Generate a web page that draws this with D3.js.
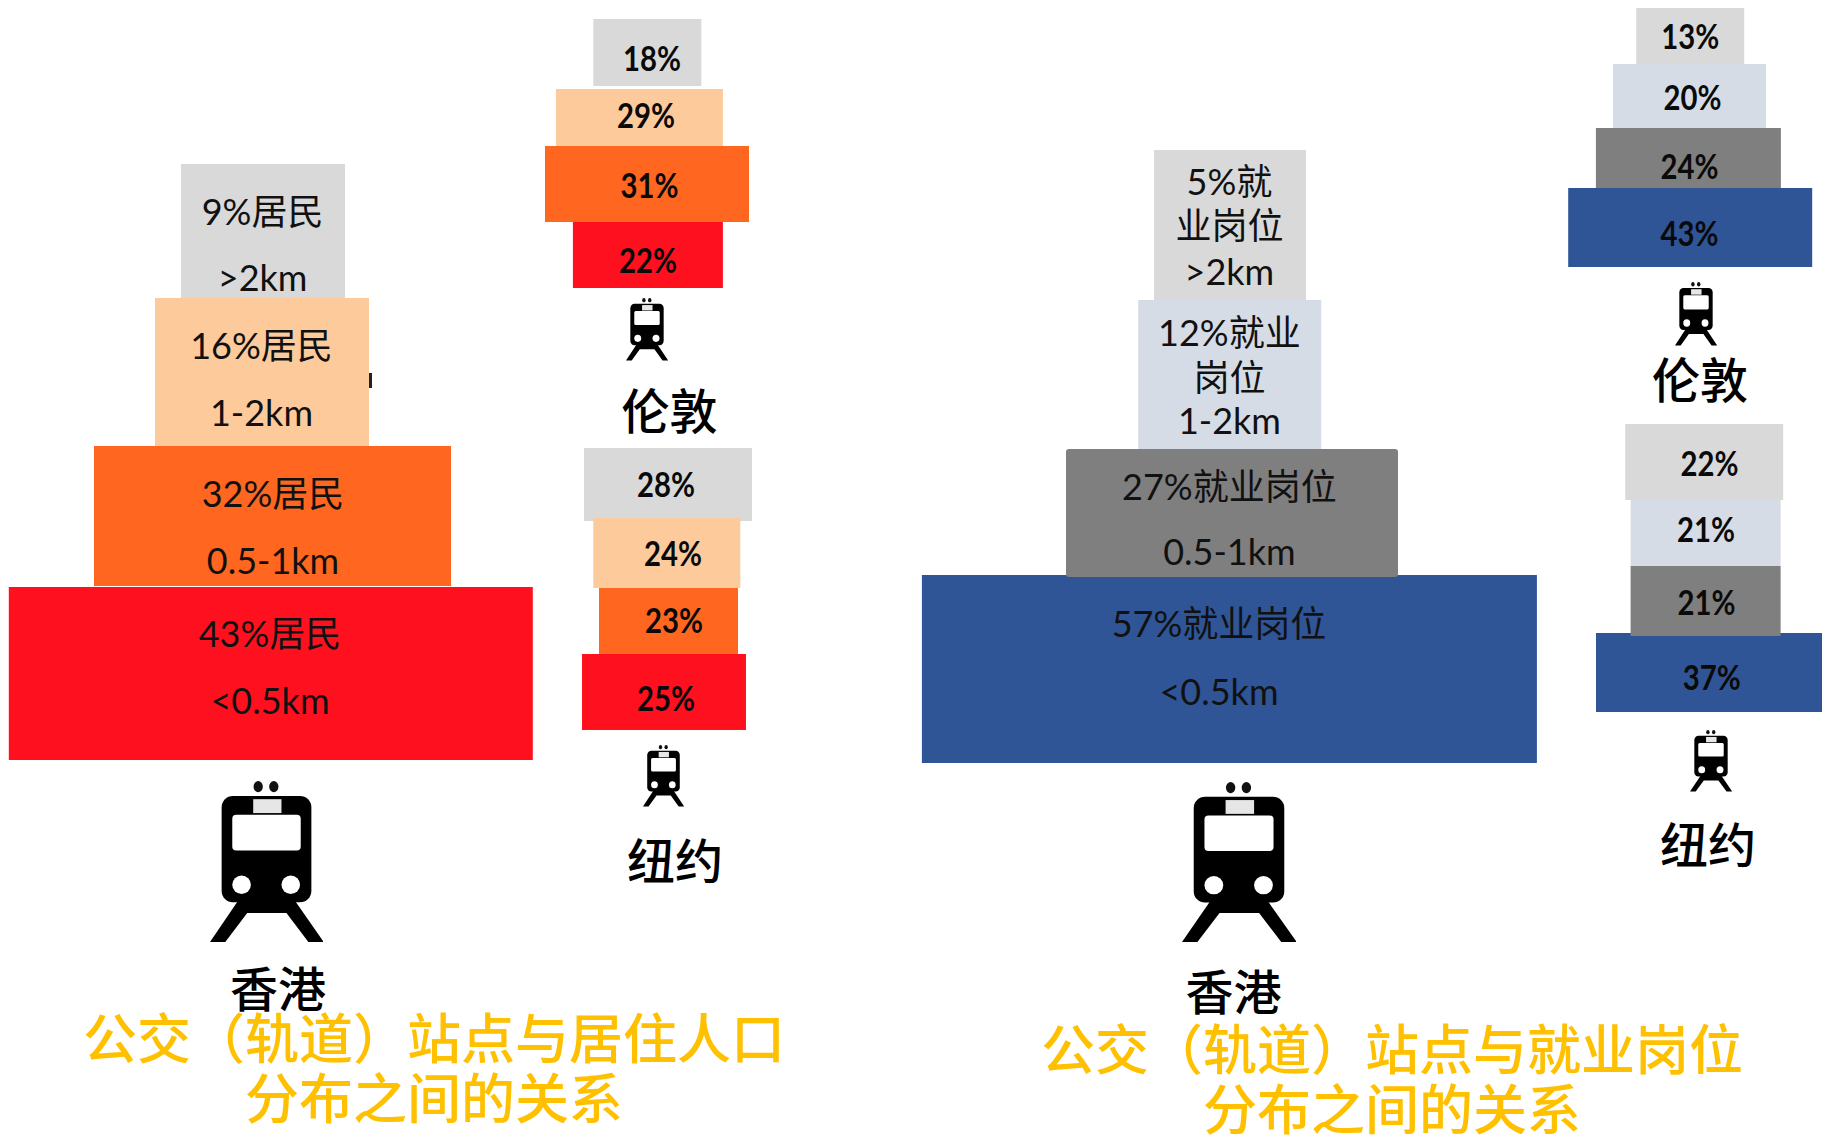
<!DOCTYPE html>
<html>
<head>
<meta charset="utf-8">
<script src="https://cdn.jsdelivr.net/npm/d3@7/dist/d3.min.js"></script>
<style>
  html, body { margin: 0; padding: 0; background: #fff; }
  svg { display: block; }
  text { text-anchor: middle; }
  .big { font-family: Lato, "Noto Sans CJK SC", sans-serif; font-size: 36px; fill: #111; }
  .small { font-family: Lato, sans-serif; font-weight: bold; font-size: 34px; fill: #0a0a0a; }
  .city { font-family: "Noto Sans CJK SC", sans-serif; font-size: 48px; font-weight: 500; fill: #000; }
  .title { font-family: "Noto Sans CJK SC", sans-serif; font-size: 54px; font-weight: 500; fill: #ffc000; }
</style>
</head>
<body>
<div id="chart"></div>
<script>
// ======================
// 1. DATA (top tier first)
// ======================
const tiers = [">2km", "1-2km", "0.5-1km", "<0.5km"];

const hkResidents = [9, 16, 32, 43];
const londonResidents = [18, 29, 31, 22];
const nyResidents = [28, 24, 23, 25];

const hkJobs = [5, 12, 27, 57];
const londonJobs = [13, 20, 24, 43];
const nyJobs = [22, 21, 21, 37];

const hkResidentLabels = [["9%居民", ">2km"], ["16%居民", "1-2km"], ["32%居民", "0.5-1km"], ["43%居民", "<0.5km"]];
const hkJobLabels = [["5%就", "业岗位", ">2km"], ["12%就业", "岗位", "1-2km"], ["27%就业岗位", "0.5-1km"], ["57%就业岗位", "<0.5km"]];

const titleResidents = ["公交（轨道）站点与居住人口", "分布之间的关系"];
const titleJobs = ["公交（轨道）站点与就业岗位", "分布之间的关系"];

// ======================
// 2. LAYOUT AND COLOURS
// ======================
const warmColors = ["#d9d9d9", "#fdcb9b", "#ff6720", "#ff101f"];
const coolColors = ["#d9d9d9", "#d6dce5", "#7f7f7f", "#2f5597"];

// the bars are not a true linear encoding, each pyramid has its own width scale
const pyramids = [
  { city: "香港", values: hkResidents, colors: warmColors,
    widths: [164, 214, 357, 524], centers: [263, 262, 272.5, 270.8],
    tops: [164, 298, 446, 587], bottoms: [298, 446, 586, 760],
    lines: hkResidentLabels, labelX: [262.6, 261.5, 273, 270],
    labelY: [[225, 291], [359, 426], [507, 574], [647, 714]],
    icon: [210, 781, 113, 162], cityPos: [278, 1007] },
  { city: "伦敦", values: londonResidents, colors: warmColors,
    widths: [108, 167, 204, 150], centers: [647.3, 639.4, 647, 647.9],
    tops: [19, 89, 146, 222], bottoms: [86, 146, 222, 288],
    labelX: [652, 646, 649.6, 647.9], labelY: [71, 127.5, 197.5, 272.5],
    icon: [626, 298, 42, 63], cityPos: [669.4, 429] },
  { city: "纽约", values: nyResidents, colors: warmColors,
    widths: [168, 147, 139, 164], centers: [668, 666.8, 668.5, 664],
    tops: [448, 518, 588, 654], bottoms: [521, 588, 654, 730],
    labelX: [666, 673, 674, 666], labelY: [497, 565.6, 632.6, 711],
    icon: [643, 745, 41, 62], cityPos: [675, 879] },
  { city: "香港", values: hkJobs, colors: coolColors,
    widths: [152, 183, 332, 615], centers: [1230, 1229.7, 1232, 1229.4],
    tops: [150, 300, 449, 575], bottoms: [300, 449, 577, 763], rx: 3,
    lines: hkJobLabels, labelX: [1229.4, 1229.4, 1229.4, 1219],
    labelY: [[195, 239, 285], [346, 391, 434], [500, 565], [637, 705]],
    icon: [1182, 782, 114, 161], cityPos: [1233.5, 1010] },
  { city: "伦敦", values: londonJobs, colors: coolColors,
    widths: [108, 153, 185, 244], centers: [1690.2, 1689.6, 1688.4, 1690.2],
    tops: [8, 64, 128, 188], bottoms: [64, 128, 188, 267],
    labelX: [1690.2, 1692.5, 1689.6, 1689.6], labelY: [48.6, 110, 179, 245.7],
    icon: [1675, 282, 42, 64], cityPos: [1700, 398] },
  { city: "纽约", values: nyJobs, colors: coolColors,
    widths: [158, 150, 150, 226], centers: [1704.2, 1705.6, 1705.6, 1709],
    tops: [424, 500, 566, 633], bottoms: [500, 566, 636, 712],
    labelX: [1709.4, 1706, 1706.5, 1711.7], labelY: [475.7, 541.5, 615, 690],
    icon: [1690, 730, 42, 62], cityPos: [1708, 863] }
];

const titles = [
  { lines: titleResidents, x: 434, y: [1059, 1119] },
  { lines: titleJobs, x: 1392, y: [1070, 1130] }
];

// overlaps in the picture: the second tier from the bottom sits on the base bar
const drawOrder = [0, 1, 3, 2];

// ======================
// 3. DRAWING
// ======================
const svg = d3.select("#chart").append("svg")
  .attr("width", 1822)
  .attr("height", 1135);

// train pictogram, defined once and stretched per city
const symbol = svg.append("defs").append("symbol")
  .attr("id", "train")
  .attr("viewBox", "30 33 340 490")
  .attr("preserveAspectRatio", "none");

[175, 222].forEach(cx => symbol.append("ellipse")
  .attr("cx", cx).attr("cy", 50).attr("rx", 14).attr("ry", 17).attr("fill", "#111"));
symbol.append("rect")
  .attr("x", 65).attr("y", 78).attr("width", 270).attr("height", 322).attr("rx", 34).attr("fill", "#000");
symbol.append("path")
  .attr("fill", "#000")
  .attr("d", "M118 390L30 520H76L142 432H260L326 520H372L282 390Z");
symbol.append("rect")
  .attr("x", 160).attr("y", 88).attr("width", 85).attr("height", 42).attr("fill", "#e6e6e6");
symbol.append("rect")
  .attr("x", 97).attr("y", 135).attr("width", 206).attr("height", 108).attr("rx", 12).attr("fill", "#fff");
[125, 273].forEach(cx => symbol.append("circle")
  .attr("cx", cx).attr("cy", 347).attr("r", 28).attr("fill", "#fff"));

// stray sliver of dark text peeking out behind the 16% bar
svg.append("rect")
  .attr("x", 369).attr("y", 373).attr("width", 3).attr("height", 15).attr("fill", "#222");

pyramids.forEach(drawPyramid);

const titleGroups = svg.selectAll(".title-group")
  .data(titles)
  .enter()
  .append("g")
  .attr("class", "title-group");

titleGroups.selectAll("text")
  .data(d => d.lines.map((line, i) => ({ line, x: d.x, y: d.y[i] })))
  .enter()
  .append("text")
  .attr("class", "title")
  .attr("x", d => d.x)
  .attr("y", d => d.y)
  .text(d => d.line);

function drawPyramid(p) {
  const sorted = d3.sort(d3.zip(p.values, p.widths), d => d[0]);
  const width = d3.scaleLinear()
    .domain(sorted.map(d => d[0]))
    .range(sorted.map(d => d[1]));
  const center = d3.scaleOrdinal(tiers, p.centers);
  const top = d3.scaleOrdinal(tiers, p.tops);
  const bottom = d3.scaleOrdinal(tiers, p.bottoms);
  const color = d3.scaleOrdinal(tiers, p.colors);

  const rows = tiers.map((tier, i) => ({ tier, value: p.values[i], i }));
  const g = svg.append("g");

  g.selectAll("rect")
    .data(drawOrder.map(i => rows[i]))
    .enter()
    .append("rect")
    .attr("x", d => center(d.tier) - width(d.value) / 2)
    .attr("y", d => top(d.tier))
    .attr("width", d => width(d.value))
    .attr("height", d => bottom(d.tier) - top(d.tier))
    .attr("rx", d => (d.i === 2 && p.rx) ? p.rx : 0)
    .attr("fill", d => color(d.tier));

  if (p.lines) {
    rows.forEach(row => {
      g.selectAll(`.row-${row.i}`)
        .data(p.lines[row.i])
        .enter()
        .append("text")
        .attr("class", `big row-${row.i}`)
        .attr("x", p.labelX[row.i])
        .attr("y", (d, j) => p.labelY[row.i][j])
        .text(d => d);
    });
  } else {
    // the source percentages are tall and narrow
    g.selectAll("text")
      .data(rows)
      .enter()
      .append("text")
      .attr("class", "small")
      .attr("x", d => p.labelX[d.i])
      .attr("y", d => p.labelY[d.i])
      .attr("textLength", 58)
      .attr("lengthAdjust", "spacingAndGlyphs")
      .text(d => `${d.value}%`);
  }

  g.append("use")
    .attr("href", "#train")
    .attr("x", p.icon[0])
    .attr("y", p.icon[1])
    .attr("width", p.icon[2])
    .attr("height", p.icon[3]);

  g.append("text")
    .attr("class", "city")
    .attr("x", p.cityPos[0])
    .attr("y", p.cityPos[1])
    .text(p.city);
}
</script>
</body>
</html>
